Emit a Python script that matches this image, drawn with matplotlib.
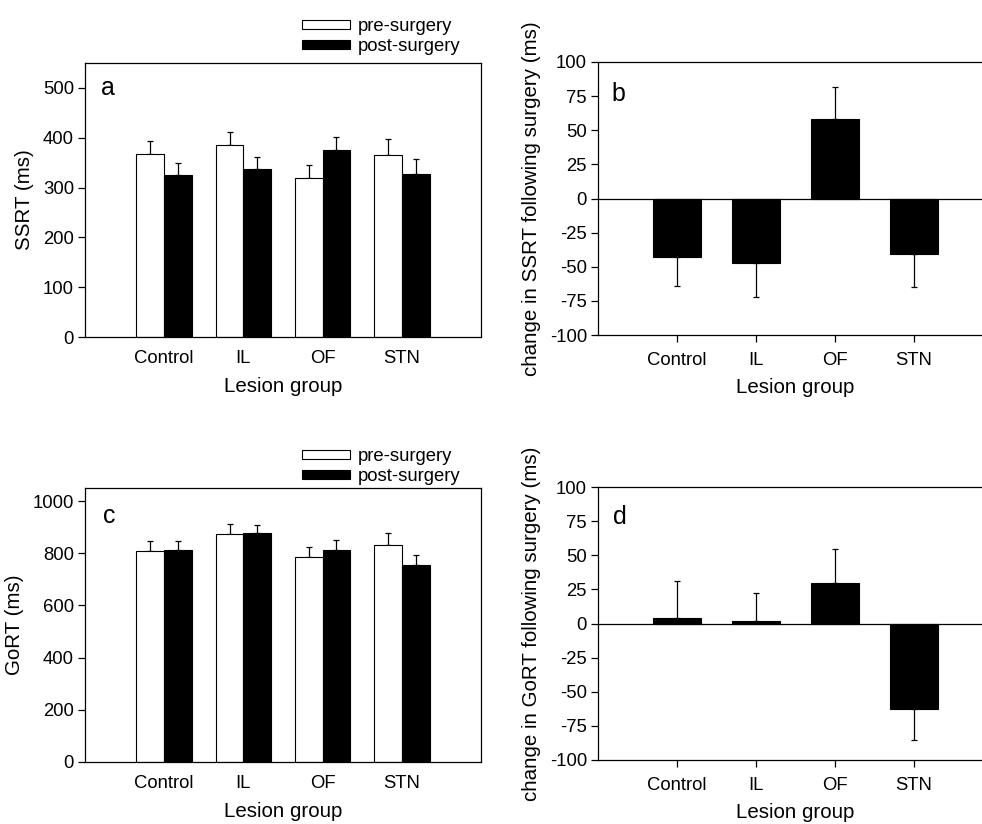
import matplotlib
matplotlib.use("Agg")
import matplotlib.pyplot as plt
import numpy as np

plt.rcParams['font.family'] = ['Liberation Sans', 'DejaVu Sans']
plt.rcParams['axes.unicode_minus'] = False

# === Daten ===
groups = ["Control", "IL", "OF", "STN"]

ssrt_pre = [368, 385, 319, 365]
ssrt_pre_err = [26, 26, 27, 32]
ssrt_post = [326, 338, 376, 327]
ssrt_post_err = [23, 24, 25, 30]

ssrt_change = [-43, -47.5, 58.5, -41]
ssrt_change_err = [21, 25, 23, 24]

gort_pre = [807, 875, 785, 831]
gort_pre_err = [39, 38, 37, 48]
gort_post = [812, 876, 814, 755]
gort_post_err = [35, 34, 36, 40]

gort_change = [4.2, 1.7, 29.6, -62.7]
gort_change_err = [27, 21, 25, 23]

W, H = 982, 824
fig = plt.figure(figsize=(W / 100, H / 100), dpi=100)

x = np.arange(len(groups))
FS_TICK = 13.3
FS_LAB = 14.8


def px_axes(l, t, r, b):
    return fig.add_axes([l / W, 1 - b / H, (r - l) / W, (b - t) / H])


def style(ax, tick_len, xpad, lpad):
    for s in ax.spines.values():
        s.set_linewidth(0.9)
    ax.tick_params(axis='y', direction='out', length=5, width=0.9, labelsize=FS_TICK, pad=3)
    ax.tick_params(axis='x', direction='out', length=tick_len, width=0.9,
                   labelsize=FS_TICK, pad=xpad)
    ax.set_xticks(x)
    ax.set_xticklabels(groups)
    ax.set_xlim(-1, 4)
    ax.set_xlabel("Lesion group", fontsize=FS_LAB, labelpad=lpad)


def paired(ax, pre, pre_err, post, post_err, ylim, yticks, ylabel, letter, lpos, leg_y):
    bw = 0.35
    ax.bar(x - bw / 2, pre, bw, color='white', edgecolor='black', linewidth=0.8, zorder=2)
    ax.bar(x + bw / 2, post, bw, color='black', edgecolor='black', linewidth=0.8, zorder=2)
    ax.errorbar(x - bw / 2, pre, yerr=[np.zeros(4), pre_err], fmt='none', ecolor='black',
                elinewidth=0.9, capsize=2.3, capthick=0.9, zorder=1)
    ax.errorbar(x + bw / 2, post, yerr=[np.zeros(4), post_err], fmt='none', ecolor='black',
                elinewidth=0.9, capsize=2.3, capthick=0.9, zorder=1)
    style(ax, 0, 9.5, 7)
    ax.set_ylim(*ylim)
    ax.set_yticks(yticks)
    ax.set_ylabel(ylabel, fontsize=FS_LAB, labelpad=6)
    ax.text(lpos[0], lpos[1], letter, transform=ax.transAxes, fontsize=18, va='center', ha='left')
    h_pre = plt.Rectangle((0, 0), 1, 1, facecolor='white', edgecolor='black', linewidth=0.8)
    h_post = plt.Rectangle((0, 0), 1, 1, facecolor='black', edgecolor='black', linewidth=0.8)
    fig.legend([h_pre, h_post], ["pre-surgery", "post-surgery"], loc='upper left',
               bbox_to_anchor=(302 / W, 1 - leg_y / H), frameon=False, borderpad=0,
               borderaxespad=0, fontsize=FS_TICK, handlelength=2.6, handleheight=0.42,
               handletextpad=0.4, labelspacing=0.17)


def change(ax, vals, errs, ylabel, letter, lpos):
    errs = np.array(errs)
    vals = np.array(vals)
    lo = np.where(vals < 0, errs, 0)
    hi = np.where(vals >= 0, errs, 0)
    ax.bar(x, vals, 0.62, color='black', edgecolor='black', linewidth=0.8, zorder=2)
    ax.errorbar(x, vals, yerr=[lo, hi], fmt='none', ecolor='black', elinewidth=0.9,
                capsize=2.4, capthick=0.9, zorder=1)
    ax.axhline(0, color='black', linewidth=0.9, zorder=3)
    style(ax, 5, 7, 7)
    ax.set_ylim(-100, 100)
    ax.set_yticks(np.arange(-100, 101, 25))
    ax.set_ylabel(ylabel, fontsize=FS_LAB, labelpad=6)
    ax.text(lpos[0], lpos[1], letter, transform=ax.transAxes, fontsize=18, va='center', ha='left')


ax_a = px_axes(85, 63, 481, 337)
paired(ax_a, ssrt_pre, ssrt_pre_err, ssrt_post, ssrt_post_err, (0, 550),
       np.arange(0, 501, 100), "SSRT (ms)", "a", (0.04, 0.91), 18)

ax_b = px_axes(598, 62, 993, 335)
change(ax_b, ssrt_change, ssrt_change_err, "change in SSRT following surgery (ms)", "b",
       (0.035, 0.882))

ax_c = px_axes(85, 488, 481, 762)
paired(ax_c, gort_pre, gort_pre_err, gort_post, gort_post_err, (0, 1050),
       np.arange(0, 1001, 200), "GoRT (ms)", "c", (0.045, 0.897), 448)

ax_d = px_axes(598, 487, 993, 760)
change(ax_d, gort_change, gort_change_err, "change in GoRT following surgery (ms)", "d",
       (0.037, 0.89))

fig.savefig("out.png", dpi=100)
